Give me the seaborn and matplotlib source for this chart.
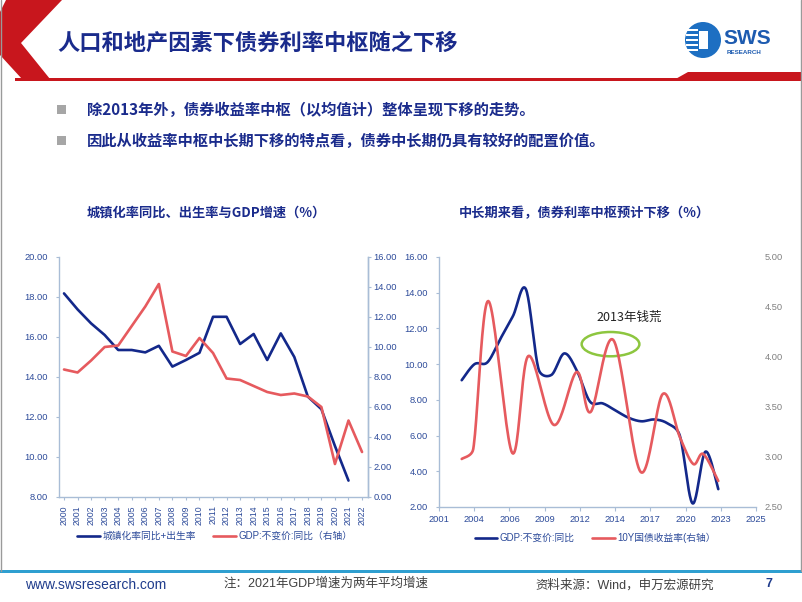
import numpy as np
import matplotlib.pyplot as plt
import matplotlib.patches as mpatches
import seaborn as sb

sb.set_theme(style='white')
plt.rcParams['font.family'] = ['Liberation Sans', 'Noto Sans CJK SC', 'DejaVu Sans']
plt.rcParams['axes.unicode_minus'] = False

CJK = ['Noto Sans CJK SC', 'DejaVu Sans']
NAVY = '#1a2b8c'
LINE_BLUE = '#13288a'
LINE_RED = '#e65a5e'
AXIS = '#a9bdd6'
TICK_TXT = '#2d4b9a'

# --- left chart data (2000-2022)
years_left = list(range(2000, 2023))
urban_birth = [18.18, 17.38, 16.68, 16.10, 15.35, 15.35, 15.23, 15.56, 14.52, 14.85, 15.21,
               17.01, 17.01, 15.65, 16.15, 14.85, 16.18, 15.00, 13.02, 12.39, 10.55, 8.82]
gdp_left = [8.5, 8.3, 9.1, 10.0, 10.1, 11.4, 12.7, 14.2, 9.7, 9.4, 10.6, 9.6, 7.9, 7.8,
            7.4, 7.0, 6.8, 6.9, 6.7, 6.0, 2.2, 5.1, 3.0]

# --- right chart data
years_gdp = list(range(2002, 2023))
gdp_right = [9.1, 10.0, 10.1, 11.4, 12.7, 14.2, 9.7, 9.4, 10.6, 9.6, 7.9, 7.8, 7.4, 7.0,
             6.8, 6.9, 6.7, 6.0, 2.2, 5.1, 3.0]
bond_x = [2002.0, 2002.9, 2004.07, 2005.94, 2007.19, 2009.19, 2010.96, 2012.05, 2013.82,
          2015.95, 2017.67, 2019.0, 2020.05, 2020.83, 2022.0]
bond_y = [2.98, 3.08, 4.56, 3.04, 4.01, 3.32, 3.85, 3.45, 4.17, 2.85, 3.63, 3.2, 2.93,
          3.03, 2.76]
right_xlabels = ['2001', '2004', '2006', '2009', '2012', '2014', '2017', '2020', '2023', '2025']


def smooth(x, y, sx, sy, n=24):
    # smoothed line like Excel: Bezier with Catmull-Rom handles (pixel space),
    # handles clipped on short segments
    p = np.column_stack([np.asarray(x, float) * sx, np.asarray(y, float) * sy])
    p = np.vstack([p[0], p, p[-1]])
    t = np.linspace(0, 1, n)[:, None]
    out = []

    def clip(h, lim):
        d = np.hypot(*h)
        return h * (lim / d) if d > lim else h

    for i in range(1, len(p) - 2):
        p0, p1, p2, p3 = p[i - 1], p[i], p[i + 1], p[i + 2]
        seg_len = np.hypot(*(p2 - p1))
        c1 = p1 + clip((p2 - p0) / 6, seg_len / 2)
        c2 = p2 - clip((p3 - p1) / 6, seg_len / 2)
        seg = (1 - t) ** 3 * p1 + 3 * (1 - t) ** 2 * t * c1 + 3 * (1 - t) * t ** 2 * c2 + t ** 3 * p2
        out.append(seg if i == 1 else seg[1:])
    out = np.vstack(out)
    return out[:, 0] / sx, out[:, 1] / sy


def style_axis(ax, sides):
    for s in ['top', 'right', 'left', 'bottom']:
        ax.spines[s].set_visible(s in sides)
        ax.spines[s].set_color(AXIS)
        ax.spines[s].set_linewidth(1.0)
    ax.set_facecolor('none')
    ax.grid(False)


fig = plt.figure(figsize=(8.02, 6.02), dpi=100)
fig.patch.set_facecolor('white')

# background layer in pixel coords
bg = fig.add_axes([0, 0, 1, 1], zorder=-1)
bg.set_xlim(0, 802)
bg.set_ylim(602, 0)
bg.axis('off')

bg.add_patch(mpatches.Polygon([(6, 0), (62, 0), (21, 43), (50, 79), (22, 79), (0, 55), (0, 12)],
                              closed=True, color='#c8161d', lw=0))
bg.add_patch(mpatches.Rectangle((15, 78), 787, 3, color='#c8161d', lw=0))
bg.add_patch(mpatches.Polygon([(672, 81), (688, 72), (802, 72), (802, 81)], closed=True,
                              color='#c8161d', lw=0))
bg.plot([1, 1], [0, 571], color='#9a9a9a', lw=1)
bg.plot([800.5, 800.5], [0, 571], color='#9a9a9a', lw=1)
bg.add_patch(mpatches.Rectangle((0, 569.5), 802, 3, color='#2f9fd0', lw=0))

bg.text(57, 43, '人口和地产因素下债券利率中枢随之下移', fontsize=16, fontweight='bold',
        color=NAVY, va='center', family=CJK)

# logo
bg.add_patch(mpatches.Circle((703, 40), 18, color='#1d6fc2', lw=0))
for yy in [29, 34, 39, 44, 49]:
    bg.add_patch(mpatches.Rectangle((686, yy), 12, 2.2, color='white', lw=0))
bg.add_patch(mpatches.Rectangle((699, 31), 9, 18, color='white', lw=0))
bg.text(723, 38, 'SWS', fontsize=15, fontweight='bold', color='#1d5bb0', va='center')
bg.text(727, 52, 'RESEARCH', fontsize=4.5, fontweight='bold', color='#1d5bb0', va='center')

# bullets
for yy, txt in [(110, '除2013年外，债券收益率中枢（以均值计）整体呈现下移的走势。'),
                (141, '因此从收益率中枢中长期下移的特点看，债券中长期仍具有较好的配置价值。')]:
    bg.add_patch(mpatches.Rectangle((57, yy - 5), 9, 9, color='#a6a6a6', lw=0))
    bg.text(87, yy, txt, fontsize=11, fontweight='bold', color=NAVY, va='center', family=CJK)

bg.text(206, 213, '城镇化率同比、出生率与GDP增速（%）', fontsize=9.5, fontweight='bold',
        color=NAVY, ha='center', va='center', family=CJK)
bg.text(584, 213, '中长期来看，债券利率中枢预计下移（%）', fontsize=9.5, fontweight='bold',
        color=NAVY, ha='center', va='center', family=CJK)

# footer
bg.text(25, 585, 'www.swsresearch.com', fontsize=10, color='#1f3c8c', va='center')
bg.text(223, 584, '注：2021年GDP增速为两年平均增速', fontsize=9, color='#404040', va='center')
bg.text(535, 585, '资料来源：Wind，申万宏源研究', fontsize=9, color='#404040', va='center')
bg.text(765, 584, '7', fontsize=9, color='#1f3c8c', va='center', fontweight='bold')

# ---------------- left chart
ax = fig.add_axes([59 / 802, 1 - 497 / 602, 309 / 802, 240 / 602])
sb.lineplot(x=years_left[:len(urban_birth)], y=urban_birth, ax=ax, color=LINE_BLUE, lw=1.9,
            label='城镇化率同比+出生率', legend=False)
ax.set_xlim(1999.63, 2022.44)
ax.set_ylim(8, 20)
ax.set_yticks(np.arange(8, 21, 2))
ax.set_yticklabels([f'{v:.2f}' for v in np.arange(8, 21, 2)])
ax.set_xticks(years_left)
ax.set_xticklabels([str(y) for y in years_left], rotation=90)
style_axis(ax, ['left', 'bottom', 'right'])
ax.tick_params(axis='y', length=2.5, width=0.8, color=AXIS, labelsize=6.7, labelcolor=TICK_TXT, pad=5.5, left=True)
ax.tick_params(axis='x', length=2.5, width=0.8, color=AXIS, labelsize=6.3, labelcolor=TICK_TXT, pad=3.5, bottom=True)

ax2 = ax.twinx()
sb.lineplot(x=years_left, y=gdp_left, ax=ax2, color=LINE_RED, lw=1.9,
            label='GDP:不变价:同比（右轴）', legend=False)
ax2.set_ylim(0, 16)
ax2.set_yticks(np.arange(0, 17, 2))
ax2.set_yticklabels([f'{v:.2f}' for v in np.arange(0, 17, 2)])
style_axis(ax2, ['right'])
ax2.tick_params(axis='y', length=2.5, width=0.8, color=AXIS, labelsize=6.7, labelcolor=TICK_TXT, pad=1.5, right=True)
ax2.set_ylabel('')

fig.legend([ax.get_lines()[0], ax2.get_lines()[0]],
           ['城镇化率同比+出生率', 'GDP:不变价:同比（右轴）'],
           loc='center', bbox_to_anchor=(0.268, 1 - 536 / 602), ncol=2, frameon=False,
           fontsize=7, handlelength=2.3, columnspacing=1.8, handletextpad=0.3,
           labelcolor=TICK_TXT)

# ---------------- right chart
sx, sy_l, sy_r = 12.83, 17.86, 100.0
bx = fig.add_axes([439 / 802, 1 - 507 / 602, 317 / 802, 250 / 602])
gx, gy = smooth(years_gdp, gdp_right, sx, sy_l)
sb.lineplot(x=gx, y=gy, ax=bx, sort=False, estimator=None, color=LINE_BLUE, lw=1.9, legend=False)
xmin, xmax = 2000.23, 2024.94
bx.set_xlim(xmin, xmax)
bx.set_ylim(2, 16)
bx.set_yticks(np.arange(2, 17, 2))
bx.set_yticklabels([f'{v:.2f}' for v in np.arange(2, 17, 2)])
bx.set_xticks(np.linspace(xmin, xmax, len(right_xlabels)))
bx.set_xticklabels(right_xlabels)
style_axis(bx, ['left', 'bottom'])
bx.tick_params(axis='y', length=2.5, width=0.8, color=AXIS, labelsize=6.7, labelcolor=TICK_TXT, pad=5.5, left=True)
bx.tick_params(axis='x', length=3, width=0.8, color=AXIS, labelsize=6.7, labelcolor=TICK_TXT, pad=3, bottom=True)

bx.add_patch(mpatches.Ellipse((2013.6, 11.12), 4.5, 1.36, fill=False, ec='#8dc63f', lw=1.8))
bx.text(2015.04, 12.64, '2013年钱荒', fontsize=9, color='#222222', ha='center', va='center',
        family=CJK)

bx2 = bx.twinx()
rx, ry = smooth(bond_x, bond_y, sx, sy_r)
sb.lineplot(x=rx, y=ry, ax=bx2, sort=False, estimator=None, color=LINE_RED, lw=1.9, legend=False)
bx2.set_ylim(2.5, 5.0)
bx2.set_yticks(np.arange(2.5, 5.01, 0.5))
bx2.set_yticklabels([f'{v:.2f}' for v in np.arange(2.5, 5.01, 0.5)])
style_axis(bx2, [])
bx2.tick_params(axis='y', length=0, labelsize=6.7, labelcolor='#808080', pad=6.5, right=True)
bx2.set_ylabel('')

fig.legend([bx.get_lines()[0], bx2.get_lines()[0]],
           ['GDP:不变价:同比', '10Y国债收益率(右轴）'],
           loc='center', bbox_to_anchor=(0.7425, 1 - 538 / 602), ncol=2, frameon=False,
           fontsize=7, handlelength=2.3, columnspacing=1.8, handletextpad=0.3,
           labelcolor=TICK_TXT)

fig.savefig('out.png', dpi=100)
